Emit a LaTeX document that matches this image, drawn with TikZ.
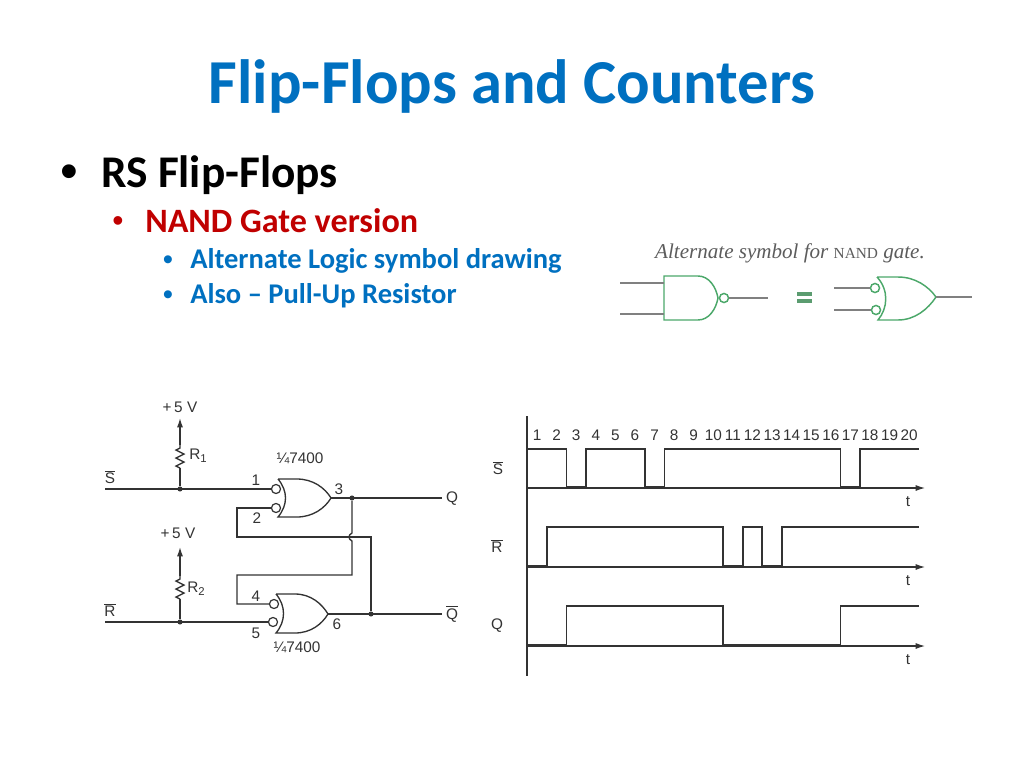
\documentclass[tikz,border=0pt]{standalone}
\usepackage{fontspec}
\setmainfont{Carlito}
\newfontfamily\labelfont{Liberation Sans}
\newfontfamily\capfont{Liberation Serif}
\usetikzlibrary{decorations.pathmorphing,arrows.meta}
\definecolor{slideblue}{HTML}{0070C0}
\definecolor{slidered}{HTML}{C00000}
\definecolor{gategreen}{HTML}{4CA86A}
\definecolor{printgray}{HTML}{333333}
\newcommand{\subnum}[1]{\raisebox{-2pt}{\fontsize{8.5}{9}\selectfont #1}}
\tikzset{
  title/.style={anchor=base,text=slideblue,font=\fontsize{46.9}{50}\selectfont\bfseries},
  levelone/.style={anchor=base west,inner sep=0pt,text=black,font=\fontsize{34}{38}\selectfont\bfseries},
  leveltwo/.style={anchor=base west,inner sep=0pt,text=slidered,font=\fontsize{25.6}{30}\selectfont\bfseries},
  levelthree/.style={anchor=base west,inner sep=0pt,text=slideblue,font=\fontsize{21.4}{25}\selectfont\bfseries},
  bulletone/.style={anchor=base,inner sep=0pt,text=black,font=\fontsize{38}{42}\selectfont\labelfont},
  bullettwo/.style={anchor=base,inner sep=0pt,text=slidered,font=\fontsize{24}{28}\selectfont\labelfont},
  bulletthree/.style={anchor=base,inner sep=0pt,text=slideblue,font=\fontsize{22}{26}\selectfont\labelfont},
  lab/.style={text=printgray,inner sep=0pt,font=\fontsize{11.5}{13}\selectfont\labelfont},
  wire/.style={draw=printgray,line width=1pt},
  gate/.style={draw=printgray,line width=1pt},
  wave/.style={draw=printgray,line width=1.3pt},
  axis/.style={draw=printgray,line width=0.8pt},
  bubble/.style={circle,draw=printgray,line width=0.9pt,fill=white,inner sep=0pt,minimum size=6.8pt},
  dot/.style={circle,fill=printgray,inner sep=0pt,minimum size=3.8pt},
  greengate/.style={draw=gategreen,line width=1.1pt},
  greenbubble/.style={circle,draw=gategreen,line width=1.1pt,fill=white,inner sep=0pt,minimum size=6.8pt},
  lead/.style={draw=gray,line width=0.9pt},
  res/.style={decorate,decoration={zigzag,segment length=6pt,amplitude=3pt}},
}
\begin{document}
\begin{tikzpicture}[x=0.75pt,y=-0.75pt,>={Latex[length=7pt,width=4.5pt]}]
\useasboundingbox (0,0) rectangle (1024,768);
% slide text
\node[title] (head) at (512,103) {Flip-Flops and Counters};
\node[bulletone] (b1) at (69,188) {•};
\node[levelone] (t1) at (101,187) {RS Flip-Flops};
\node[bullettwo] (b2) at (118,231) {•};
\node[leveltwo] (t2) at (145,232) {NAND Gate version};
\node[bulletthree] (b3) at (168,269) {•};
\node[levelthree] (t3) at (190,268) {Alternate Logic symbol drawing};
\node[bulletthree] (b4) at (168,304) {•};
\node[levelthree] (t4) at (190,303) {Also – Pull-Up Resistor};

% alternate symbol
\node[text=printgray!80,font=\fontsize{15.8}{18}\selectfont\capfont\itshape] (altcap) at (790,253) {Alternate symbol for {\upshape\fontsize{11.5}{12}\selectfont NAND} gate.};
\draw[greengate] (698,276) -- (664,276) -- (664,320) -- (698,320) .. controls (709,320) and (716,309) .. (718,298) .. controls (716,287) and (709,276) .. (698,276);
\node[greenbubble] (nb) at (724,298) {};
\coordinate (na) at (664,283);
\coordinate (nc) at (664,314);
\coordinate (ia) at (620,283);
\coordinate (ic) at (620,314);
\coordinate (oa) at (768,298);
\draw[lead] (ia) -- (na);
\draw[lead] (ic) -- (nc);
\draw[lead] (nb) -- (oa);
\draw[draw=gategreen!70!gray,line width=2.4pt] (797,294) -- (812,294);
\draw[draw=gategreen!70!gray,line width=2.4pt] (797,301) -- (812,301);
\draw[greengate] (877,277) -- (898,277) .. controls (915,277) and (928,286) .. (936,297) .. controls (928,309) and (915,320) .. (898,320) -- (878,320) .. controls (888,308) and (889,290) .. (877,277);
\node[greenbubble] (ob1) at (875,288) {};
\node[greenbubble] (ob2) at (876,310) {};
\coordinate (ot) at (936,297);
\coordinate (ja) at (834,288);
\coordinate (jc) at (834,310);
\coordinate (jo) at (972,297);
\draw[lead] (ja) -- (ob1);
\draw[lead] (jc) -- (ob2);
\draw[lead] (ot) -- (jo);

% latch, upper gate
\draw[gate] (278,479) -- (297,479) .. controls (313,479) and (325,488) .. (331,498) .. controls (325,508) and (313,517) .. (297,517) -- (278,517) .. controls (288,505) and (288,491) .. (278,479);
\node[bubble] (g1a) at (276,489) {};
\node[bubble] (g1b) at (276,508) {};
\coordinate (g1o) at (331,498);
% lower gate
\draw[gate] (276,594) -- (295,594) .. controls (311,594) and (322,604) .. (328,614) .. controls (322,624) and (311,633) .. (295,633) -- (276,633) .. controls (286,621) and (286,606) .. (276,594);
\node[bubble] (g2a) at (274,604) {};
\node[bubble] (g2b) at (273,622) {};
\coordinate (g2o) at (328,614);

\coordinate (sin) at (105,489);
\coordinate (rin) at (105,622);
\coordinate (qout) at (442,498);
\coordinate (nqout) at (442,614);
\coordinate (vs) at (180,418);
\coordinate (vr) at (180,547);
\node[dot] (js) at (180,489) {};
\node[dot] (jr) at (180,622) {};
\node[dot] (jq) at (352,498) {};
\node[dot] (jn) at (371,614) {};
\coordinate (rs1) at (180,468);
\coordinate (rs2) at (180,445);
\coordinate (rr1) at (180,599);
\coordinate (rr2) at (180,576);
\coordinate (fa) at (237,508);
\coordinate (fb) at (237,537);
\coordinate (fc) at (371,537);
\coordinate (ga) at (237,604);
\coordinate (gb) at (237,575);
\coordinate (gc) at (352,575);
\coordinate (hopa) at (352,533);
\coordinate (hopb) at (352,541);

\draw[wire] (sin) -- (g1a);
\draw[wire] (rin) -- (g2b);
\draw[wire] (g1o) -- (qout);
\draw[wire] (g2o) -- (nqout);
\draw[wire] (js) -- (rs1);
\draw[wire,res] (rs1) -- (rs2);
\draw[wire,->] (rs2) -- (vs);
\draw[wire] (jr) -- (rr1);
\draw[wire,res] (rr1) -- (rr2);
\draw[wire,->] (rr2) -- (vr);
\draw[wire] (g1b) -- (fa) -- (fb) -- (fc) -- (jn);
\draw[wire] (jq) -- (hopa) .. controls (348,535) and (348,539) .. (hopb) -- (gc) -- (gb) -- (ga) -- (g2a);

\node[lab] (vsl) at (180,407) {+\,5 V};
\node[lab] (vrl) at (178,533) {+\,5 V};
\node[lab] (r1l) at (198,456) {R\subnum{1}};
\node[lab] (r2l) at (196,589) {R\subnum{2}};
\node[lab] (sl) at (110,477) {$\overline{\mbox{S}}$};
\node[lab] (rl) at (110,610) {$\overline{\mbox{R}}$};
\node[lab] (ql) at (452,499) {Q};
\node[lab] (nql) at (452,614) {$\overline{\mbox{Q}}$};
\node[lab] (p1) at (256,480) {1};
\node[lab] (p2) at (257,518) {2};
\node[lab] (p3) at (339,489) {3};
\node[lab] (p4) at (256,596) {4};
\node[lab] (p5) at (256,633) {5};
\node[lab] (p6) at (337,624) {6};
\node[lab] (ic1) at (300,458) {¼7400};
\node[lab] (ic2) at (297,647) {¼7400};

% timing
\coordinate (vtop) at (527,416);
\coordinate (vbot) at (527,676);
\draw[axis] (vtop) -- (vbot);
\foreach \n in {1,...,20}
  \node[lab] (n\n) at ({527.3+(\n-0.5)*19.58},435) {\n};
\foreach \nm/\ya/\yb in {s/449/488,r/527/567,q/606/646}{
  \coordinate (\nm a) at (527,\yb);
  \coordinate (\nm b) at (925,\yb);
  \draw[axis,->] (\nm a) -- (\nm b);
  \node[lab] (\nm t) at (908,\yb+14) {t};
}
\draw[wave] (527,449) -- (566.5,449) -- (566.5,487) -- (586,487) -- (586,449) -- (644.8,449) -- (644.8,487) -- (664.4,487) -- (664.4,449) -- (840.6,449) -- (840.6,487) -- (860.2,487) -- (860.2,449) -- (919,449);
\draw[wave] (527,566) -- (546.9,566) -- (546.9,527) -- (723.1,527) -- (723.1,566) -- (742.7,566) -- (742.7,527) -- (762.3,527) -- (762.3,566) -- (781.8,566) -- (781.8,527) -- (919,527);
\draw[wave] (527,645) -- (566.5,645) -- (566.5,606) -- (723.1,606) -- (723.1,645) -- (840.6,645) -- (840.6,606) -- (919,606);
\node[lab] (sw) at (498,468) {$\overline{\mbox{S}}$};
\node[lab] (rw) at (497,546) {$\overline{\mbox{R}}$};
\node[lab] (qw) at (497,626) {Q};
\end{tikzpicture}
\end{document}
